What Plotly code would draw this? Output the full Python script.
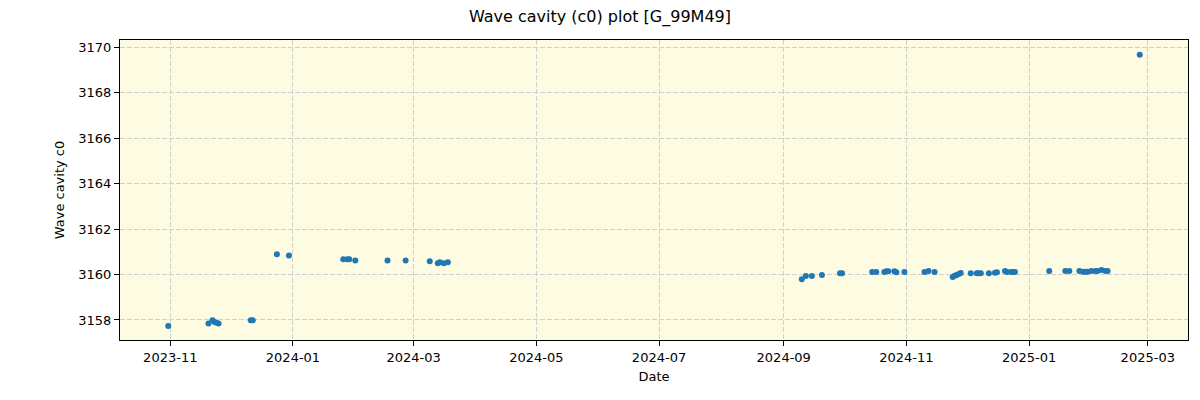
import plotly.graph_objects as go

dates = [
    "2023-10-31",
    "2023-11-20", "2023-11-22", "2023-11-23", "2023-11-24", "2023-11-25",
    "2023-12-11", "2023-12-12",
    "2023-12-24", "2023-12-30",
    "2024-01-26", "2024-01-28", "2024-01-29", "2024-02-01",
    "2024-02-17", "2024-02-26",
    "2024-03-09", "2024-03-13", "2024-03-14", "2024-03-16", "2024-03-18",
    "2024-09-10", "2024-09-12", "2024-09-15", "2024-09-20",
    "2024-09-29", "2024-09-30",
    "2024-10-15", "2024-10-17", "2024-10-21", "2024-10-22", "2024-10-23",
    "2024-10-26", "2024-10-27", "2024-10-31",
    "2024-11-10", "2024-11-12", "2024-11-15",
    "2024-11-24", "2024-11-25", "2024-11-26", "2024-11-27", "2024-11-28",
    "2024-12-03", "2024-12-06", "2024-12-07", "2024-12-08", "2024-12-12",
    "2024-12-15", "2024-12-16", "2024-12-20", "2024-12-21", "2024-12-23",
    "2024-12-24", "2024-12-25",
    "2025-01-11", "2025-01-19", "2025-01-21",
    "2025-01-26", "2025-01-28", "2025-01-29", "2025-01-30", "2025-02-01",
    "2025-02-03", "2025-02-04", "2025-02-06", "2025-02-08", "2025-02-09",
    "2025-02-25",
]
values = [
    3157.74,
    3157.85, 3157.99, 3157.91, 3157.88, 3157.85,
    3157.99, 3157.99,
    3160.89, 3160.84,
    3160.67, 3160.67, 3160.67, 3160.62,
    3160.62, 3160.62,
    3160.58, 3160.49, 3160.54, 3160.49, 3160.54,
    3159.79, 3159.93, 3159.93, 3159.98,
    3160.05, 3160.05,
    3160.11, 3160.11, 3160.11, 3160.14, 3160.14,
    3160.14, 3160.10, 3160.11,
    3160.11, 3160.15, 3160.11,
    3159.89, 3159.95, 3159.98, 3160.02, 3160.07,
    3160.05, 3160.05, 3160.05, 3160.05, 3160.05,
    3160.08, 3160.10, 3160.15, 3160.11, 3160.11,
    3160.11, 3160.11,
    3160.15, 3160.15, 3160.15,
    3160.15, 3160.12, 3160.12, 3160.12, 3160.15,
    3160.15, 3160.15, 3160.20, 3160.15, 3160.15,
    3169.66,
]
x_ticks = ["2023-11-01", "2024-01-01", "2024-03-01", "2024-05-01", "2024-07-01",
           "2024-09-01", "2024-11-01", "2025-01-01", "2025-03-01"]
x_tick_labels = ["2023-11", "2024-01", "2024-03", "2024-05", "2024-07",
                 "2024-09", "2024-11", "2025-01", "2025-03"]
y_ticks = [3158, 3160, 3162, 3164, 3166, 3168, 3170]

fig = go.Figure()
fig.add_trace(go.Scatter(
    x=dates, y=values, mode="markers",
    marker=dict(color="#1f77b4", size=6, line=dict(width=0)),
    showlegend=False,
))

font = "DejaVu Sans, sans-serif"
axis_common = dict(
    showline=True, linecolor="black", linewidth=1, mirror=True,
    ticks="outside", ticklen=5, tickcolor="black", tickwidth=1,
    showgrid=True, gridcolor="#d0d0d0", griddash="5px,2px", gridwidth=1,
    zeroline=False, tickfont=dict(size=13, color="black", family=font),
)

fig.update_layout(
    width=1200, height=400,
    margin=dict(l=120, r=12, t=40, b=60),
    paper_bgcolor="white",
    plot_bgcolor="#fdfbe1",
    font=dict(family=font, color="black"),
    title=dict(text="Wave cavity (c0) plot [G_99M49]", x=0.5, xanchor="center",
               y=0.96, yanchor="middle", font=dict(size=16, family=font)),
    xaxis=dict(
        **axis_common,
        range=["2023-10-07", "2025-03-21"],
        tickvals=x_ticks, ticktext=x_tick_labels,
        title=dict(text="Date", font=dict(size=13, family=font), standoff=8),
    ),
    yaxis=dict(
        **axis_common,
        range=[3157.12, 3170.31],
        tickvals=y_ticks,
        title=dict(text="Wave cavity c0", font=dict(size=13, family=font), standoff=10),
    ),
)

fig.write_html("out.html")
